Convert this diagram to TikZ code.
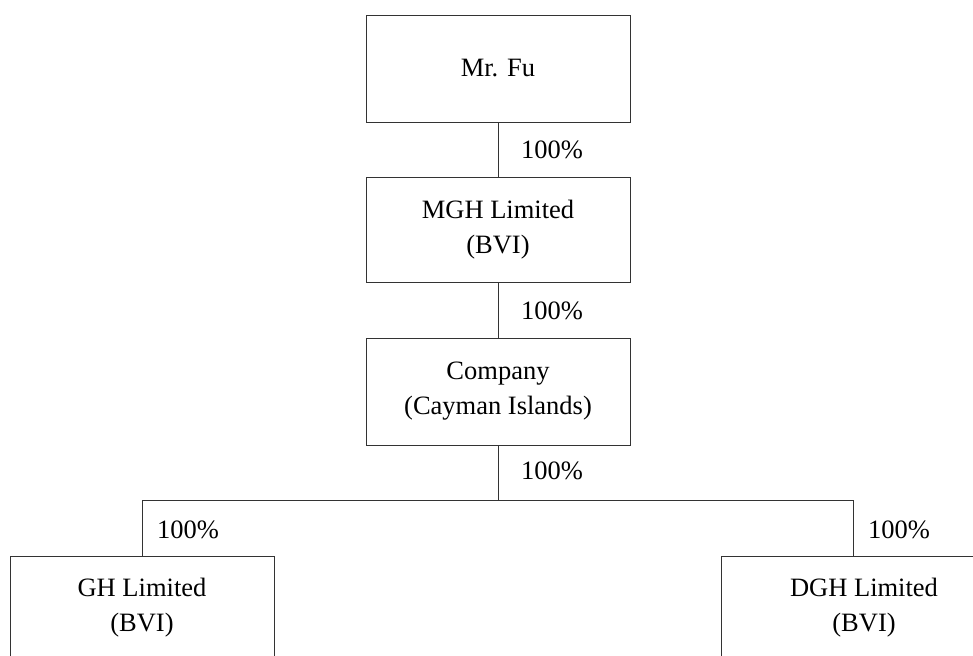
\documentclass[tikz,border=0pt]{standalone}
\usepackage{fontspec}
\setmainfont{Liberation Serif}
\begin{document}
\begin{tikzpicture}[x=1pt,y=-1pt,
  entity/.style={draw=black!80, line width=0.9pt, minimum width=264pt, minimum height=106pt, inner sep=0pt, align=center, font=\fontsize{26.5}{35}\selectfont},
  pct/.style={font=\fontsize{26.5}{32}\selectfont, inner sep=0pt, anchor=west},
  link/.style={draw=black!80, line width=0.9pt}]
\useasboundingbox (0,0) rectangle (973,655);
\clip (0,0) rectangle (973,655);
\node[entity, minimum height=107pt] (fu) at (498,68.5) {Mr. Fu};
\node[entity, minimum height=105pt] (mgh) at (498,229.5) {MGH Limited\\(BVI)};
\node[entity, minimum height=107pt] (co) at (498,391.5) {Company\\(Cayman Islands)};
\node[entity, minimum height=104pt] (gh) at (142,608) {GH Limited\\(BVI)};
\node[entity, minimum width=286pt, minimum height=104pt] (dgh) at (864,608) {DGH Limited\\(BVI)};
\coordinate (busL) at (142,500);
\coordinate (busR) at (853,500);
\draw[link] (fu.south) -- (mgh.north);
\draw[link] (mgh.south) -- (co.north);
\draw[link] (co.south) -- (co.south |- busL);
\draw[link] (busL) -- (busR);
\draw[link] (busL) -- (gh.north);
\draw[link] (busR) -- (busR |- dgh.north);
\node[pct] (p1) at (521,150) {100\%};
\node[pct] (p2) at (521,311) {100\%};
\node[pct] (p3) at (521,471) {100\%};
\node[pct] (p4) at (157,530) {100\%};
\node[pct] (p5) at (868,530) {100\%};
\end{tikzpicture}
\end{document}
